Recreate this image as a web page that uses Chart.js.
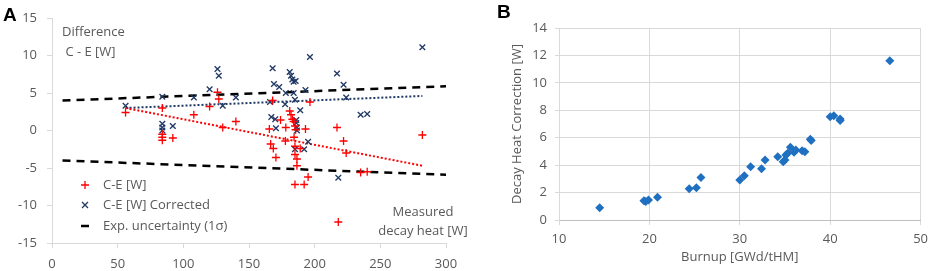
<!DOCTYPE html>
<html>
<head>
<meta charset="utf-8">
<script src="https://cdn.jsdelivr.net/npm/chart.js@4.4.1/dist/chart.umd.min.js"></script>
<style>
  body { margin: 0; background: #fff; width: 934px; height: 271px; overflow: hidden; position: relative; }
  #chartA { position: absolute; left: 0; top: 0; }
  #chartB { position: absolute; left: 470px; top: 0; }
</style>
</head>
<body>
<canvas id="chartA" width="480" height="271"></canvas>
<canvas id="chartB" width="464" height="271"></canvas>
<script>
// Panel A - calculated minus measured decay heat
const ceHeat = [56, 84, 84, 84, 84, 92, 108, 120, 126, 127, 130, 140, 165.5, 166.5, 168.5, 170.5, 168, 174, 178, 177.7, 181, 182, 183, 184, 185, 185.5, 184.3, 185, 185, 186.5, 186.5, 196.4, 193, 189, 195, 192, 185, 217, 218, 222, 224, 235, 240, 282]
const ceDiff = [2.4, 3.0, -0.5, -0.9, -1.3, -1.0, 2.1, 3.2, 5.1, 4.2, 0.4, 1.2, 0.2, -1.8, -2.4, -3.6, 4.0, 1.4, 0.4, -1.4, 2.6, 2.1, 1.5, 1.2, 0.6, 0.1, -0.9, -2.1, -3.2, -3.8, -4.7, 3.8, 0.2, -2.4, -6.2, -7.2, -7.2, 0.4, -12.2, -1.4, -3.0, -5.6, -5.5, -0.6]

const corrHeat = [56, 84, 84, 84, 84, 92, 108, 120, 126, 127, 130, 140, 168, 166, 167, 169, 170, 170.5, 173, 177.5, 178, 181, 182, 183, 184, 185.5, 184, 185, 189, 186, 186, 186.5, 186.5, 193, 196.4, 195, 192, 185, 217, 218, 222, 224, 235, 240, 282]
const corrDiff = [3.3, 4.5, 0.9, 0.4, 0.0, 0.6, 4.4, 5.5, 8.2, 7.3, 3.3, 4.4, 8.3, 3.8, 1.8, 6.2, 1.5, 0.3, 5.8, 3.5, 5.0, 7.8, 7.3, 6.8, 6.5, 6.6, 5.0, 4.1, 2.7, 1.4, 1.0, 0.4, 0.0, 5.4, 9.8, -1.5, -2.5, -2.5, 7.6, -6.3, 6.1, 4.4, 2.1, 2.2, 11.1]

const trendHeat = [56, 282]
const ceTrend = [3.0, -4.7]
const corrTrend = [3.0, 4.6]

const uncHeat = [8, 300]
const uncUpper = [4.0, 5.9]
const uncLower = [-4.0, -5.9]

// Panel B - decay heat correction vs burnup
const burnup = [14.5, 19.4, 19.6, 19.9, 20.9, 24.4, 25.2, 25.7, 30.0, 30.5, 31.2, 32.4, 32.8, 34.2, 34.8, 35.0, 35.1, 35.3, 35.6, 36.0, 36.2, 36.9, 37.2, 37.8, 37.9, 40.0, 40.4, 41.1, 41.1, 46.6]
const correction = [0.9, 1.4, 1.35, 1.45, 1.65, 2.28, 2.36, 3.09, 2.92, 3.23, 3.89, 3.74, 4.38, 4.62, 4.25, 4.38, 4.74, 4.86, 5.3, 4.94, 5.1, 5.05, 4.98, 5.88, 5.8, 7.53, 7.6, 7.37, 7.25, 11.62]

const grey = '#595959'
const lightGrey = '#d9d9d9'
const red = '#ff0000'
const navy = '#203864'
const blue = '#1f70c1'
const font = 'Open Sans'

let toPoints = (xs, ys) => xs.map((x, i) => ({x: x, y: ys[i]}))

//Text and legend for panel A
const annotA = {
    id: 'annotA',
    afterDraw(chart) {
        const c = chart.ctx
        c.save()
        c.fillStyle = grey
        c.font = '13px "' + font + '"'
        c.textBaseline = 'middle'
        c.textAlign = 'left'
        c.fillText('Difference', 62, 32)
        c.fillText(' C - E [W]', 62, 52)
        c.textAlign = 'center'
        c.fillText('Measured', 423, 212)
        c.fillText('decay heat [W]', 423, 231)

        // legend
        c.textAlign = 'left'
        c.fillText('C-E [W]', 103, 185)
        c.fillText('C-E [W] Corrected', 103, 205)
        c.fillText('Exp. uncertainty (1\u03c3)', 103, 226)
        c.lineWidth = 1.3
        c.strokeStyle = red
        c.beginPath()
        c.moveTo(81, 185); c.lineTo(89, 185)
        c.moveTo(85, 181); c.lineTo(85, 189)
        c.stroke()
        c.strokeStyle = navy
        c.beginPath()
        c.moveTo(82, 202); c.lineTo(88, 208)
        c.moveTo(88, 202); c.lineTo(82, 208)
        c.stroke()
        c.strokeStyle = '#000'
        c.lineWidth = 2.5
        c.beginPath()
        c.moveTo(81, 226); c.lineTo(89, 226)
        c.stroke()

        c.fillStyle = '#000'
        c.font = 'bold 19px Arial'
        c.textBaseline = 'alphabetic'
        c.fillText('A', 3, 21)
        c.restore()
    }
}

const annotB = {
    id: 'annotB',
    afterDraw(chart) {
        const c = chart.ctx
        c.save()
        c.fillStyle = '#000'
        c.font = 'bold 19px Arial'
        c.fillText('B', 27, 18)
        c.restore()
    }
}

// Panel A
new Chart(document.querySelector('#chartA').getContext('2d'), {
    type: 'scatter',
    data: {
        datasets: [
            {
                label: 'C-E [W]',
                data: toPoints(ceHeat, ceDiff),
                pointStyle: 'cross',
                pointRadius: 4,
                borderColor: red,
                borderWidth: 1.3,
                showLine: false
            },
            {
                label: 'C-E [W] Corrected',
                data: toPoints(corrHeat, corrDiff),
                pointStyle: 'crossRot',
                pointRadius: 4,
                borderColor: navy,
                borderWidth: 1.3,
                showLine: false
            },
            {
                label: 'Exp. uncertainty (1\u03c3)',
                data: toPoints(uncHeat, uncUpper),
                showLine: true,
                pointRadius: 0,
                borderColor: '#000',
                borderWidth: 2.5,
                borderDash: [8, 6]
            },
            {
                label: 'lower',
                data: toPoints(uncHeat, uncLower),
                showLine: true,
                pointRadius: 0,
                borderColor: '#000',
                borderWidth: 2.5,
                borderDash: [8, 6]
            },
            {
                label: 'trend C-E',
                data: toPoints(trendHeat, ceTrend),
                showLine: true,
                pointRadius: 0,
                borderColor: red,
                borderWidth: 2,
                borderDash: [2, 2]
            },
            {
                label: 'trend corrected',
                data: toPoints(trendHeat, corrTrend),
                showLine: true,
                pointRadius: 0,
                borderColor: navy,
                borderWidth: 2,
                borderDash: [2, 2]
            }
        ]
    },
    options: {
        responsive: false,
        animation: false,
        layout: {padding: {top: 18, right: 34, left: 0, bottom: 0}},
        plugins: {legend: {display: false}, tooltip: {enabled: false}},
        scales: {
            x: {
                type: 'linear', min: 0, max: 300,
                ticks: {stepSize: 50, color: grey, font: {family: font, size: 13}, padding: 8},
                grid: {drawOnChartArea: false, tickLength: 5, color: lightGrey},
                border: {color: lightGrey},
                afterFit: s => { s.height = 28 }
            },
            y: {
                min: -15, max: 15,
                ticks: {stepSize: 5, color: grey, font: {family: font, size: 13}, padding: 10},
                grid: {drawOnChartArea: false, tickLength: 5, color: lightGrey},
                border: {color: lightGrey},
                afterFit: s => { s.width = 52 }
            }
        }
    },
    plugins: [annotA]
})

// Panel B
new Chart(document.querySelector('#chartB').getContext('2d'), {
    type: 'scatter',
    data: {
        datasets: [{
            label: 'Decay heat correction',
            data: toPoints(burnup, correction),
            pointStyle: 'rectRot',
            pointRadius: 4.5,
            backgroundColor: blue,
            borderColor: blue,
            borderWidth: 0
        }]
    },
    options: {
        responsive: false,
        animation: false,
        layout: {padding: {top: 28, right: 9, left: 39, bottom: 6}},
        plugins: {legend: {display: false}, tooltip: {enabled: false}},
        scales: {
            x: {
                type: 'linear', min: 10, max: 50,
                ticks: {stepSize: 10, color: grey, font: {family: font, size: 13}, padding: 6},
                grid: {color: lightGrey, tickLength: 5},
                border: {color: '#bfbfbf'},
                title: {display: true, text: 'Burnup [GWd/tHM]', color: grey, font: {family: font, size: 13}, padding: {top: 0, bottom: 0}},
                afterFit: s => { s.height = 45 }
            },
            y: {
                min: 0, max: 14,
                ticks: {stepSize: 2, color: grey, font: {family: font, size: 13}, padding: 8},
                grid: {color: lightGrey, tickLength: 4},
                border: {color: lightGrey},
                title: {display: true, text: 'Decay Heat Correction [W]', color: grey, font: {family: font, size: 13}, padding: {top: 0, bottom: 0}},
                afterFit: s => { s.width = 50 }
            }
        }
    },
    plugins: [annotB]
})
</script>
</body>
</html>
